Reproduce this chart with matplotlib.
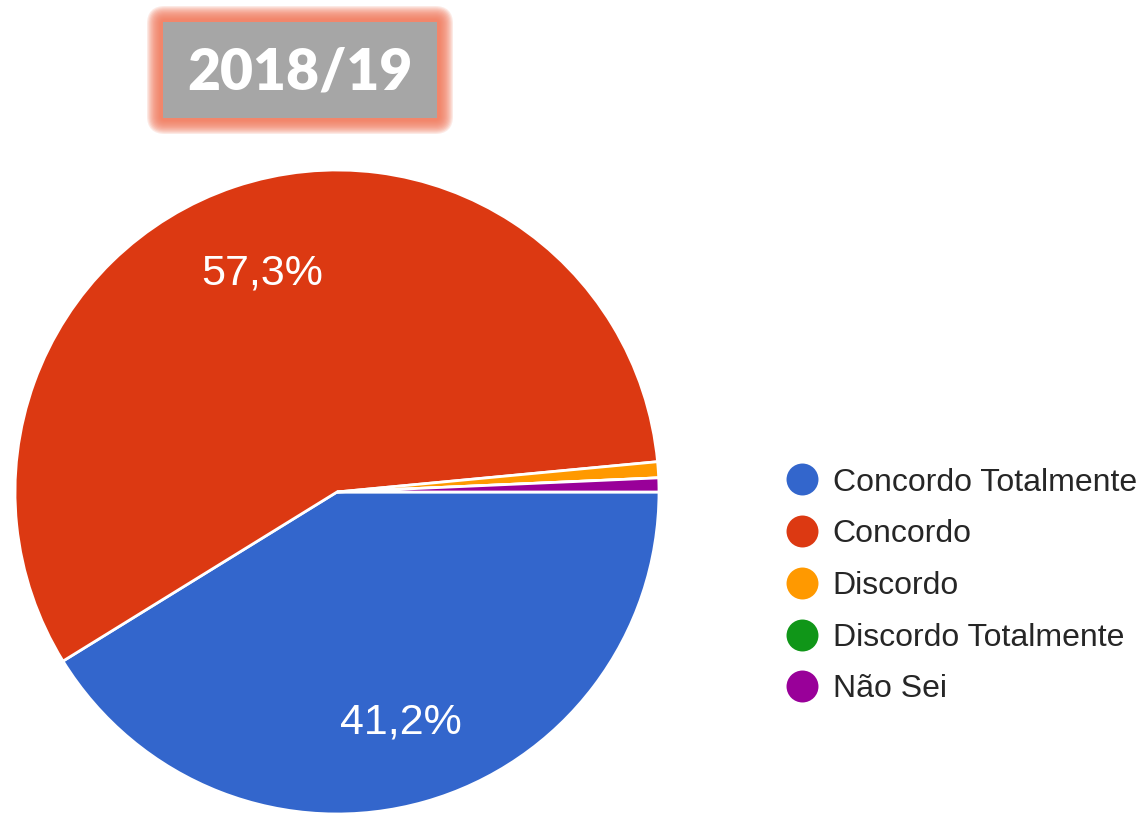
import matplotlib.pyplot as plt
from matplotlib.patches import FancyBboxPatch
from matplotlib.lines import Line2D

# data
labels = ['Concordo Totalmente', 'Concordo', 'Discordo', 'Discordo Totalmente', 'Não Sei']
values = [41.2, 57.3, 0.8, 0.0, 0.7]
colors = ['#3366cc', '#dc3912', '#ff9900', '#109618', '#990099']
title = '2018/19'

W, H = 1144, 814
fig = plt.figure(figsize=(W / 100, H / 100), dpi=100)

# overlay in pixel coords for the title box
bg = fig.add_axes([0, 0, 1, 1])
bg.set_xlim(0, W)
bg.set_ylim(H, 0)
bg.axis('off')

# soft orange glow around the title box
for k in range(12):
    pad = 16 - k * 1.2
    bg.add_patch(FancyBboxPatch((163, 22), 274, 96,
                                boxstyle=f'round,pad={pad},rounding_size={pad + 2}',
                                fc='#f2785a', ec='none', alpha=0.16))
bg.add_patch(FancyBboxPatch((163, 22), 274, 96, boxstyle='square,pad=0',
                            fc='#a6a6a6', ec='none'))
bg.text(300, 72, title, ha='center', va='center', color='white',
        fontsize=41, fontweight='heavy', family='Lato')

# pie
ax = fig.add_axes([15 / W, 0, 644 / W, 644 / H])


def fmt(p):
    return f'{p:.1f}%'.replace('.', ',') if p > 5 else ''


wedges, _, autotexts = ax.pie(values, colors=colors, startangle=0, counterclock=False,
                              autopct=fmt, pctdistance=0.73,
                              wedgeprops=dict(edgecolor='white', linewidth=2),
                              textprops=dict(color='white', fontsize=31, va='center_baseline',
                                             family='Liberation Sans'))
ax.set_xlim(-1.0, 1.0)
ax.set_ylim(-1.0, 1.0)
ax.set_aspect('equal')

# legend
handles = [Line2D([], [], marker='o', ls='none', markersize=23,
                  markerfacecolor=c, markeredgecolor='none') for c in colors]
leg = fig.legend(handles, labels, loc='center left', bbox_to_anchor=(780 / W, 1 - 586 / H),
                 frameon=False, prop=dict(family='Liberation Sans', size=23),
                 labelspacing=0.68, handletextpad=0.25, handlelength=1.4,
                 borderpad=0, borderaxespad=0)
for t in leg.get_texts():
    t.set_color('#262626')

fig.savefig('out.png', dpi=100)
